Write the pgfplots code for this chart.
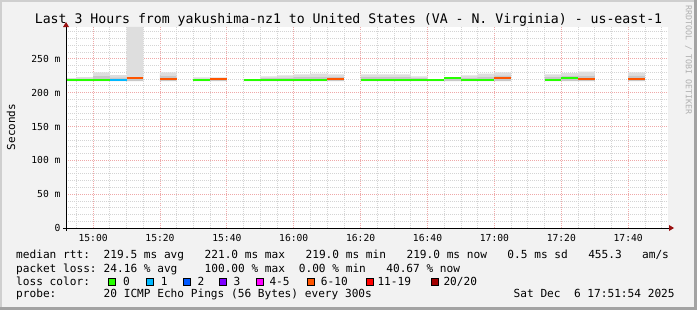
\documentclass[border=0pt]{standalone}
\usepackage{pgfplots}
\pgfplotsset{compat=1.18}
\usepackage{pgfplotstable}
\usepackage{fontspec}
\setmainfont{DejaVu Sans Mono}
\newcommand\fs[1]{\fontsize{#1}{#1}\selectfont}
\definecolor{bg}{HTML}{F2F2F2}
\definecolor{frameL}{HTML}{CFCFCF}
\definecolor{frameD}{HTML}{A3A3A3}
\definecolor{gridmaj}{HTML}{EFA8A8}
\definecolor{gridmin}{HTML}{D4D4D4}
\definecolor{arrowred}{HTML}{991111}
\definecolor{smokedk}{HTML}{C8C8C8}
\definecolor{smokelt}{HTML}{DEDEDE}
\definecolor{wm}{HTML}{B0B0B0}
\definecolor{c0}{HTML}{26FF00}
\definecolor{c1}{HTML}{00B8FF}
\definecolor{c2}{HTML}{0059FF}
\definecolor{c3}{HTML}{7E00FF}
\definecolor{c4}{HTML}{FF00FF}
\definecolor{c6}{HTML}{FF5500}
\definecolor{c11}{HTML}{FF0000}
\definecolor{c20}{HTML}{A10000}

% smoke: centre of 5-min interval (min after 15:00), invisible base, darker band, lighter band
\pgfplotstableread{
c base dk lt
-7.5 217 3.25 1.25
-2.5 217 4 2
2.5 217 7.5 5.5
7.5 217 5.5 3.5
12.5 217 4.5 75.5
22.5 217 8.25 4.75
32.5 217 3.75 1.75
37.5 217 4.5 1
47.5 217 2.5 0.5
52.5 217 4.5 2.5
57.5 217 5.25 3.25
62.5 217 6 4
67.5 217 6.5 4.5
72.5 217 6.5 3.5
82.5 217 6 4
87.5 217 6 4
92.5 217 6 4
97.5 217 4.5 2.5
102.5 217 2.5 0
107.5 217 4.75 0.25
112.5 217 5.25 3.25
117.5 217 6.5 4.5
122.5 217 8.5 4.5
137.5 217 6 4
142.5 217 8.25 3.75
147.5 217 8.25 5.75
162.5 217 7.75 5.25
}\smoke

\pgfplotstableread{
t y
-8.1 219
5 219
5 nan
30 219
35 219
35 nan
45 219
70 219
70 nan
80 219
105 219
105 nan
105 221.5
110 221.5
110 nan
110 219
120 219
120 nan
135 219
140 219
140 nan
140 221.5
145 221.5
}\medgreen

\pgfplotstableread{
t y
5 219
10 219
}\medblue

\pgfplotstableread{
t y
10 221.5
15 221.5
15 nan
20 220.5
25 220.5
25 nan
35 220.5
40 220.5
40 nan
70 220
75 220
75 nan
120 221
125 221
125 nan
145 219.5
150 219.5
150 nan
160 219.5
165 219.5
}\medorange

\newcommand\leg[3]{\node[anchor=base west, inner sep=0pt, font=\fs{11.18}] at ({16+#1*6.73}, #2) {#3};}

\begin{document}
\begin{tikzpicture}[x=1bp,y=1bp]
\fill[bg] (0,0) rectangle (697,310);
\fill[frameL] (0,0) rectangle (2,310);
\fill[frameL] (0,308) rectangle (697,310);
\fill[frameD] (0,0) rectangle (697,3);
\fill[frameD] (694,0) rectangle (697,310);

\begin{axis}[
  at={(66bp,82bp)}, anchor=south west,
  width=602bp, height=201bp, scale only axis,
  xmin=-8.1, xmax=171.9, ymin=0, ymax=297,
  axis background/.style={fill=white},
  axis line style={draw=none},
  xtick={0,20,...,160},
  xticklabels={15:00,15:20,15:40,16:00,16:20,16:40,17:00,17:20,17:40},
  minor xtick={-5,5,10,15,25,30,35,45,50,55,65,70,75,85,90,95,105,110,115,125,130,135,145,150,155,165,170},
  ytick={0,50,...,250},
  yticklabels={0,50 m,100 m,150 m,200 m,250 m},
  minor ytick={10,20,30,40,60,70,80,90,110,120,130,140,160,170,180,190,210,220,230,240,260,270,280,290},
  grid=both,
  major grid style={draw=gridmaj, dash pattern=on 1bp off 1bp, line width=0.8bp},
  minor grid style={draw=gridmin, dash pattern=on 1bp off 1bp, line width=0.8bp},
  major tick length=0pt, minor tick length=0pt,
  tick style={draw=none},
  xticklabel style={font=\fs{9.7}, anchor=base, yshift=-13bp},
  yticklabel style={font=\fs{9.7}, anchor=east, xshift=-2bp},
  ybar stacked, bar width=5,
]
\addplot[draw=none, fill=none] table[x=c, y=base] {\smoke};
\addplot[draw=none, fill=smokedk] table[x=c, y=dk] {\smoke};
\addplot[draw=none, fill=smokelt] table[x=c, y=lt] {\smoke};
\end{axis}

\begin{axis}[
  at={(66bp,82bp)}, anchor=south west,
  width=602bp, height=201bp, scale only axis,
  xmin=-8.1, xmax=171.9, ymin=0, ymax=297,
  hide axis, unbounded coords=jump,
]
\addplot[c0, line width=2bp, no markers] table[x=t, y=y] {\medgreen};
\addplot[c1, line width=2bp, no markers] table[x=t, y=y] {\medblue};
\addplot[c6, line width=2bp, no markers] table[x=t, y=y] {\medorange};
\end{axis}

% axis lines and arrows
\draw[black, line width=1bp] (63,82) -- (669,82);
\draw[black, line width=1bp] (66,79) -- (66,283);
\fill[arrowred] (669,85) -- (674,82) -- (669,79) -- cycle;
\fill[arrowred] (63,283) -- (66,288) -- (69,283) -- cycle;

% title, axis label, watermark
\node[anchor=base, font=\fs{13.24}, inner sep=0pt] at (348.5,286.7) {Last 3 Hours from yakushima-nz1 to United States (VA - N. Virginia) - us-east-1};
\node[rotate=90, font=\fs{11}, inner sep=0pt] at (11,183) {Seconds};
\node[rotate=-90, anchor=west, font=\fs{8.3}, text=wm, inner sep=0pt] at (688.5,305) {RRDTOOL / TOBI OETIKER};

% legend
\leg{0}{51.7}{median rtt:}
\leg{13}{51.7}{219.5 ms avg}
\leg{28}{51.7}{221.0 ms max}
\leg{43}{51.7}{219.0 ms min}
\leg{58}{51.7}{219.0 ms now}
\leg{73}{51.7}{0.5 ms sd}
\leg{85}{51.7}{455.3}
\leg{93}{51.7}{am/s}

\leg{0}{38}{packet loss:}
\leg{13}{38}{24.16 \% avg}
\leg{28}{38}{100.00 \% max}
\leg{42}{38}{0.00 \% min}
\leg{55}{38}{40.67 \% now}

\leg{0}{24.3}{loss color:}
\foreach \bx/\col/\lx/\txt in {108.3/c0/123/0, 145.7/c1/160.7/1, 182.7/c2/197.3/2, 219/c3/233.3/3, 256/c4/269.3/4-5, 307.3/c6/320.7/6-10, 365.7/c11/377.3/11-19, 430.7/c20/443.3/{20/20}}{
  \filldraw[fill=\col, draw=black, line width=1bp] (\bx+0.5,24.3) rectangle (\bx+7.3,31.2);
  \node[anchor=base west, inner sep=0pt, font=\fs{11.18}] at (\lx,24.3) {\txt};
}

\leg{0}{12.5}{probe:}
\leg{13}{12.5}{20 ICMP Echo Pings (56 Bytes) every 300s}
\node[anchor=base west, inner sep=0pt, font=\fs{11.18}] at (513.5,12.5) {Sat Dec\ \ 6 17:51:54 2025};

\pgfresetboundingbox
\path[use as bounding box] (0,0) rectangle (697,310);
\end{tikzpicture}
\end{document}
